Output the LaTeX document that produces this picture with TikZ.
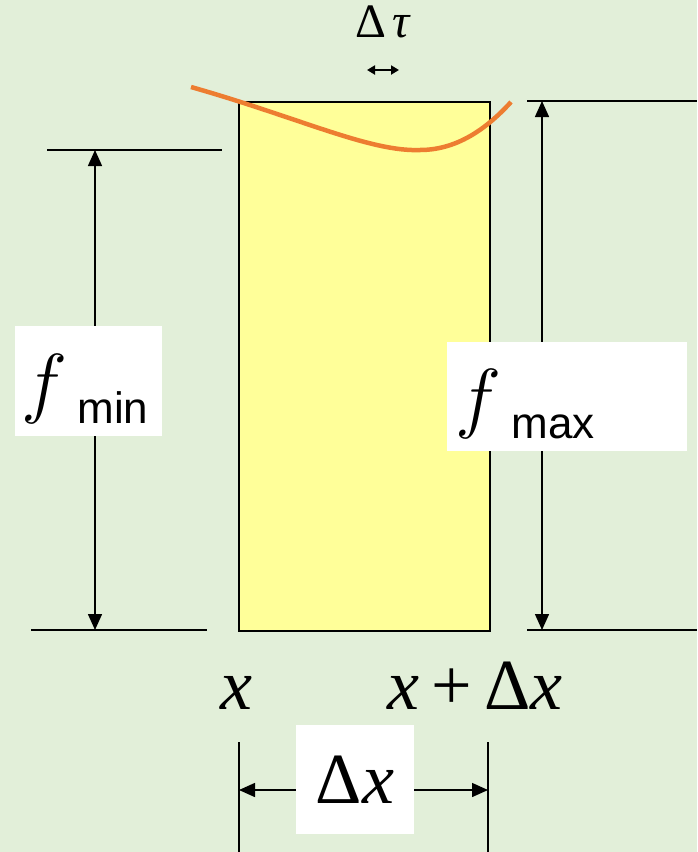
\RequirePackage{fix-cm}
\documentclass[tikz,border=0pt]{standalone}
\usepackage{fontspec}
\setmainfont{Liberation Serif}
\newfontfamily\labelsans{Liberation Sans}
\usetikzlibrary{arrows.meta, positioning, backgrounds, calc}
\definecolor{bggreen}{RGB}{226,239,217}
\definecolor{stripyellow}{RGB}{255,255,153}
\definecolor{curveorange}{RGB}{237,125,49}
\newcommand{\bigfont}{\fontsize{72}{72}\selectfont}
\newcommand{\subfont}{\labelsans\fontsize{44}{44}\selectfont}
\newcommand{\fsym}{{\fontsize{78}{78}\selectfont$f$}}
\tikzset{
  extline/.style={line width=1.5pt},
  dimarrow/.style={line width=1.5pt, {Triangle[length=16pt,width=14pt]}-{Triangle[length=16pt,width=14pt]}},
  smallarrow/.style={line width=2pt, {Triangle[length=8pt,width=9pt]}-{Triangle[length=8pt,width=9pt]}},
  labelbox/.style={fill=white, inner sep=0pt}
}

\begin{document}
\begin{tikzpicture}[x=1pt, y=-1pt]
  \fill[bggreen] (0,0) rectangle (697,852);
  \useasboundingbox (0,0) rectangle (697,852);
  % the strip from x to x+dx
  \node[draw, fill=stripyellow, line width=1.8pt, inner sep=0pt, minimum width=251pt, minimum height=529pt, anchor=north west] (strip) at (238,101) {};
  \draw[curveorange, line width=4.5pt] (191,87) .. controls (300,118) and (370,152) .. (420,150)
    .. controls (460,150) and (490,125) .. (511,102);
  % delta tau
  \node[font=\fontsize{48}{48}\selectfont, anchor=base] (dtau) at (383,37) {Δ\hspace{6pt}\textit{τ}};
  \coordinate (dtl) at (367,70);
  \coordinate (dtr) at (399,70);
  \draw[smallarrow] (dtl) -- (dtr);
  % left dimension, f min
  \coordinate (lt0) at (47,150);  \coordinate (lt1) at (222,150);
  \coordinate (lb0) at (31,630);  \coordinate (lb1) at (207,630);
  \draw[extline] (lt0) -- (lt1);
  \draw[extline] (lb0) -- (lb1);
  \coordinate (fmintop) at (95,150);
  \coordinate (fminbot) at (95,630);
  \draw[dimarrow] (fmintop) -- (fminbot);
  \node[labelbox, minimum width=147pt, minimum height=110pt] (fminbox) at (88.5,381) {};
  \node[anchor=base west] (fmin) at (18,408) {\fsym\hspace{10pt}\raisebox{-15pt}{\subfont min}};
  % right dimension, f max
  \coordinate (rt0) at (527,101); \coordinate (rt1) at (697,101);
  \coordinate (rb0) at (527,630); \coordinate (rb1) at (697,630);
  \draw[extline] (rt0) -- (rt1);
  \draw[extline] (rb0) -- (rb1);
  \coordinate (fmaxtop) at (542,101);
  \coordinate (fmaxbot) at (542,630);
  \draw[dimarrow] (fmaxtop) -- (fmaxbot);
  \node[labelbox, minimum width=240pt, minimum height=109pt] (fmaxbox) at (567,396.5) {};
  \node[anchor=base west] (fmax) at (452,423) {\fsym\hspace{10pt}\raisebox{-15pt}{\subfont max}};
  % bottom labels and dx
  \node[font=\bigfont, anchor=base] (xlab) at (236,709) {\textit{x}};
  \node[font=\bigfont, anchor=base] (xdxlab) at (475,709) {\textit{x}\hspace{12pt}+\hspace{12pt}Δ\textit{x}};
  \coordinate (ex0) at (239,742); \coordinate (ex1) at (239,852);
  \coordinate (ey0) at (488,742); \coordinate (ey1) at (488,852);
  \draw[extline] (ex0) -- (ex1);
  \draw[extline] (ey0) -- (ey1);
  \coordinate (dxl) at (239,790);
  \coordinate (dxr) at (488,790);
  \draw[dimarrow] (dxl) -- (dxr);
  \node[labelbox, font=\bigfont, minimum width=118pt, minimum height=109pt] (dxbox) at (355,779.5) {Δ\textit{x}};
\end{tikzpicture}
\end{document}
